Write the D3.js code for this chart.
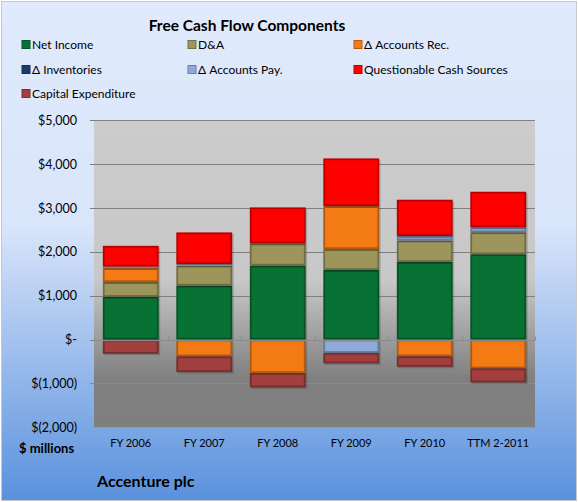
<!DOCTYPE html>
<html><head><meta charset="utf-8">
<script src="https://cdn.jsdelivr.net/npm/d3@7"></script>
<style>
html,body{margin:0;padding:0;background:#fff;}
svg{display:block;font-family:Lato,"Noto Sans",sans-serif;}
</style></head>
<body>
<svg id="chart" width="578" height="502"></svg>
<script>
const categories = ["FY 2006","FY 2007","FY 2008","FY 2009","FY 2010","TTM 2-2011"];
const seriesNames = ["Net Income","D&A","\u0394 Accounts Rec.","\u0394 Inventories","\u0394 Accounts Pay.","Questionable Cash Sources","Capital Expenditure"];
const netIncome = [976, 1231, 1687, 1589, 1772, 1945];
const depAmort = [335, 456, 502, 474, 486, 502];
const accountsRec = [319, -383, -764, 980, -381, -657];
const inventories = [0, 0, 0, 0, 0, 0];
const accountsPay = [34, 34, 0, -303, 103, 112];
const questionable = [474, 723, 825, 1088, 828, 812];
const capex = [-324, -358, -326, -239, -239, -319];
const yTicks = [5000, 4000, 3000, 2000, 1000, 0, -1000, -2000];
const colors = ["#077234","#9c955c","#f47a14","#1f3b6e","#8eaadb","#ff0000","#a33e3e"];

const seriesValues = [netIncome, depAmort, accountsRec, inventories, accountsPay, questionable, capex];
const table = categories.map((c,i)=>{
  const row = {cat:c};
  seriesNames.forEach((s,j)=>row[s]=seriesValues[j][i]);
  return row;
});

const svg = d3.select("#chart");
const W = 578, H = 502;
const defs = svg.append("defs");
const bg = defs.append("linearGradient").attr("id","bg").attr("x1",0).attr("y1",0).attr("x2",0).attr("y2",1);
bg.append("stop").attr("offset","0%").attr("stop-color","#e0eafc");
bg.append("stop").attr("offset","45%").attr("stop-color","#d9e5fa");
bg.append("stop").attr("offset","100%").attr("stop-color","#5a91dd");
const pg = defs.append("linearGradient").attr("id","pg").attr("x1",0).attr("y1",0).attr("x2",0).attr("y2",1);
pg.append("stop").attr("offset","0%").attr("stop-color","#cccccc");
pg.append("stop").attr("offset","52%").attr("stop-color","#c8c8c8");
pg.append("stop").attr("offset","84%").attr("stop-color","#808080");
pg.append("stop").attr("offset","100%").attr("stop-color","#7f7f7f");

svg.append("rect").attr("x",1.5).attr("y",1.5).attr("width",W-3).attr("height",H-3)
  .attr("fill","url(#bg)").attr("stroke","#c8c8c8").attr("stroke-width",1);

const plotL = 94, plotR = 535, plotT = 120.3, plotB = 427.3;
const x = d3.scaleBand().domain(categories).range([plotL, plotR]).paddingInner(0.24).paddingOuter(0.12);
const y = d3.scaleLinear().domain([-2000, 5000]).range([plotB, plotT]);

svg.append("rect").attr("x",plotL).attr("y",plotT).attr("width",plotR-plotL).attr("height",plotB-plotT)
  .attr("fill","url(#pg)");

// gridlines
svg.append("g").selectAll("line").data(yTicks.filter(v=>v!==-2000)).join("line")
  .attr("x1",plotL-4).attr("x2",plotR).attr("y1",d=>Math.round(y(d))+0.5).attr("y2",d=>Math.round(y(d))+0.5)
  .attr("stroke",d=>d<0?"#8a8a8a":"#808080").attr("stroke-width",1);

// y labels
svg.append("g").selectAll("text").data(yTicks).join("text")
  .attr("x",77).attr("y",d=>y(d)).attr("dy","0.36em").attr("text-anchor","end")
  .attr("font-size",12.5).attr("fill","#000")
  .text(d=> d===0 ? "$-" : d<0 ? "$(" + d3.format(",")(-d) + ")" : "$" + d3.format(",")(d));

// stacked bars
const stack = d3.stack().keys(seriesNames).offset(d3.stackOffsetDiverging);
const stacked = stack(table);
const gBars = svg.append("g");
stacked.forEach((layer, j)=>{
  const c = d3.color(colors[j]);
  const dark = c.darker(0.9).formatHex();
  gBars.append("g").selectAll("g").data(layer.filter(d=>Math.abs(d[1]-d[0])>0)).join("g")
    .each(function(d){
      const g = d3.select(this);
      const x0 = x(d.data.cat), bw = x.bandwidth();
      const yTop = y(Math.max(d[0],d[1])), yBot = y(Math.min(d[0],d[1]));
      const h = Math.max(1, yBot - yTop);
      // shadow
      g.append("rect").attr("x",x0+1.5).attr("y",yTop+1.5).attr("width",bw).attr("height",h)
        .attr("fill","#000").attr("opacity",0.18);
      g.append("rect").attr("x",x0).attr("y",yTop).attr("width",bw).attr("height",h)
        .attr("fill",dark);
      if (h > 4) {
        g.append("rect").attr("x",x0+1.8).attr("y",yTop+1.8).attr("width",bw-3.6).attr("height",h-3.6)
          .attr("fill",colors[j]);
      } else {
        g.append("rect").attr("x",x0+1.5).attr("y",yTop+0.8).attr("width",bw-3).attr("height",Math.max(0.5,h-1.6))
          .attr("fill",c.brighter(0.4).formatHex());
      }
    });
});

// zero axis line + ticks
const y0 = Math.round(y(0))+0.5;
svg.append("line").attr("x1",plotL).attr("x2",plotR).attr("y1",y0).attr("y2",y0)
  .attr("stroke","#8c8c8c").attr("stroke-width",1);
const bounds = categories.map(c=>x(c) - x.step()*x.paddingInner()/2).slice(1).concat([plotR]).concat([plotL]);
svg.append("g").selectAll("line").data(bounds).join("line")
  .attr("x1",d=>Math.round(d)+0.5).attr("x2",d=>Math.round(d)+0.5).attr("y1",y0-4).attr("y2",y0)
  .attr("stroke","#8c8c8c");

// x labels
svg.append("g").selectAll("text").data(categories).join("text")
  .attr("x",d=>x(d)+x.bandwidth()/2).attr("y",447).attr("text-anchor","middle")
  .attr("font-size",11).attr("fill","#000").text(d=>d);

svg.append("text").attr("x",19).attr("y",453).attr("font-size",13).attr("font-weight","bold").text("$ millions");

// title
svg.append("text").attr("x",247).attr("y",31).attr("text-anchor","middle")
  .attr("font-size",15.5).attr("font-weight","bold").text("Free Cash Flow Components");

// legend
const legCols = [22, 188, 354], legRows = [45, 70, 94];
const leg = svg.append("g").selectAll("g").data(seriesNames).join("g")
  .attr("transform",(d,i)=>`translate(${legCols[i%3]},${legRows[Math.floor(i/3)]})`);
leg.append("rect").attr("x",0).attr("y",-4.5).attr("width",8).attr("height",8)
  .attr("fill",(d,i)=>colors[i]).attr("stroke",(d,i)=>d3.color(colors[i]).darker(0.8).formatHex()).attr("stroke-width",1);
leg.append("text").attr("x",10).attr("y",0).attr("dy","0.36em").attr("font-size",12).text(d=>d);

svg.append("text").attr("x",97).attr("y",487).attr("font-size",16).attr("font-weight","bold").text("Accenture plc");
</script>
</body></html>
